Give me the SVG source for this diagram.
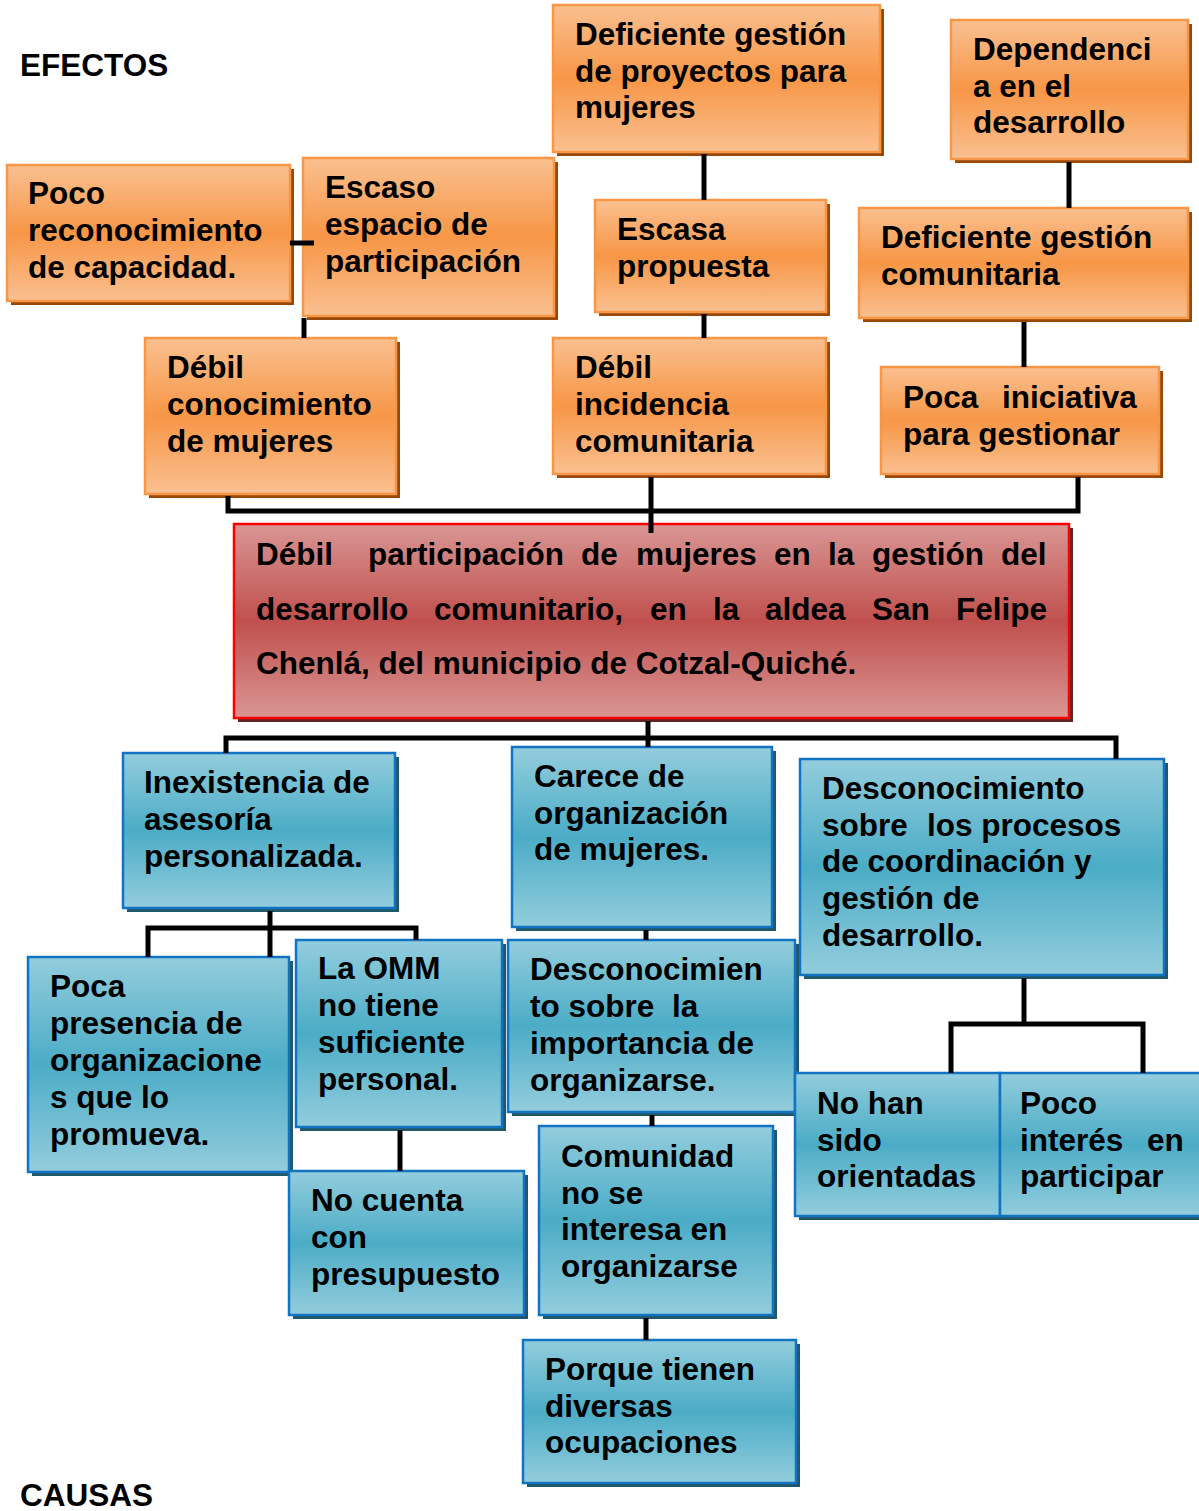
<svg xmlns="http://www.w3.org/2000/svg" width="1199" height="1511" viewBox="0 0 1199 1511">
<defs>
<linearGradient id="gO" x1="0" y1="0" x2="0" y2="1">
<stop offset="0" stop-color="#fac090"/><stop offset="0.5" stop-color="#f79646"/><stop offset="1" stop-color="#fac090"/>
</linearGradient>
<linearGradient id="gB" x1="0" y1="0" x2="0" y2="1">
<stop offset="0" stop-color="#93cddd"/><stop offset="0.5" stop-color="#4bacc6"/><stop offset="1" stop-color="#93cddd"/>
</linearGradient>
<linearGradient id="gR" x1="0" y1="0" x2="0" y2="1">
<stop offset="0" stop-color="#d99694"/><stop offset="0.5" stop-color="#c0504d"/><stop offset="1" stop-color="#d99694"/>
</linearGradient>
</defs>
<style>
text{font-family:"Liberation Sans",Arial,sans-serif;font-weight:bold;font-size:31.5px;fill:#000}
.o{fill:url(#gO);stroke:#f79646;stroke-width:2.5}
.os{fill:#984807}
.b{fill:url(#gB);stroke:#1273c2;stroke-width:2.5}
.bs{fill:#215868}
.r{fill:url(#gR);stroke:#ff0000;stroke-width:2.5}
.rs{fill:#632523}
.c{fill:none;stroke:#000;stroke-width:5}
</style>
<rect width="1199" height="1511" fill="#fff"/>
<text id="efectos" x="20" y="76">EFECTOS</text>
<text id="causas" x="20" y="1506">CAUSAS</text>

<g id="n-deficiente-proyectos">
<rect class="os" x="557" y="9" width="327" height="147"/>
<rect class="o" x="553" y="5" width="327" height="147"/>
<text x="575" y="45">Deficiente gestión</text>
<text x="575" y="82">de proyectos para</text>
<text x="575" y="118">mujeres</text>
</g>
<g id="n-dependencia">
<rect class="os" x="955" y="24" width="237" height="139"/>
<rect class="o" x="951" y="20" width="237" height="139"/>
<text x="973" y="60">Dependenci</text>
<text x="973" y="97">a en el</text>
<text x="973" y="133">desarrollo</text>
</g>
<g id="n-poco-reconocimiento">
<rect class="os" x="11" y="169" width="283" height="136"/>
<rect class="o" x="7" y="165" width="283" height="136"/>
<text x="28" y="204">Poco</text>
<text x="28" y="241">reconocimiento</text>
<text x="28" y="278">de capacidad.</text>
</g>
<g id="n-escaso-espacio">
<rect class="os" x="307" y="162" width="251" height="158"/>
<rect class="o" x="303" y="158" width="251" height="158"/>
<text x="325" y="198">Escaso</text>
<text x="325" y="235">espacio de</text>
<text x="325" y="272">participación</text>
</g>
<g id="n-escasa-propuesta">
<rect class="os" x="599" y="204" width="231" height="112"/>
<rect class="o" x="595" y="200" width="231" height="112"/>
<text x="617" y="240">Escasa</text>
<text x="617" y="277">propuesta</text>
</g>
<g id="n-deficiente-comunitaria">
<rect class="os" x="863" y="212" width="329" height="110"/>
<rect class="o" x="859" y="208" width="329" height="110"/>
<text x="881" y="248">Deficiente gestión</text>
<text x="881" y="285">comunitaria</text>
</g>
<g id="n-debil-conocimiento">
<rect class="os" x="149" y="342" width="251" height="156"/>
<rect class="o" x="145" y="338" width="251" height="156"/>
<text x="167" y="378">Débil</text>
<text x="167" y="415">conocimiento</text>
<text x="167" y="452">de mujeres</text>
</g>
<g id="n-debil-incidencia">
<rect class="os" x="557" y="342" width="273" height="136"/>
<rect class="o" x="553" y="338" width="273" height="136"/>
<text x="575" y="378">Débil</text>
<text x="575" y="415">incidencia</text>
<text x="575" y="452">comunitaria</text>
</g>
<g id="n-poca-iniciativa">
<rect class="os" x="885" y="371" width="278" height="107"/>
<rect class="o" x="881" y="367" width="278" height="107"/>
<text x="903" y="408">Poca<tspan x="1002">iniciativa</tspan></text>
<text x="903" y="445">para gestionar</text>
</g>

<g id="n-problema-central">
<rect class="rs" x="238" y="528" width="835" height="194"/>
<rect class="r" x="234" y="524" width="835" height="194"/>
<text y="565"><tspan x="256">Débil</tspan><tspan x="368">participación</tspan><tspan x="581">de</tspan><tspan x="636">mujeres</tspan><tspan x="774">en</tspan><tspan x="828">la</tspan><tspan x="872">gestión</tspan><tspan x="1001">del</tspan></text>
<text y="620"><tspan x="256">desarrollo</tspan><tspan x="434">comunitario,</tspan><tspan x="650">en</tspan><tspan x="713">la</tspan><tspan x="765">aldea</tspan><tspan x="872">San</tspan><tspan x="956">Felipe</tspan></text>
<text x="256" y="674">Chenlá, del municipio de Cotzal-Quiché.</text>
</g>

<g id="n-inexistencia">
<rect class="bs" x="127" y="757" width="272" height="155"/>
<rect class="b" x="123" y="753" width="272" height="155"/>
<text x="144" y="793">Inexistencia de</text>
<text x="144" y="830">asesoría</text>
<text x="144" y="867">personalizada.</text>
</g>
<g id="n-carece">
<rect class="bs" x="516" y="751" width="260" height="180"/>
<rect class="b" x="512" y="747" width="260" height="180"/>
<text x="534" y="787">Carece de</text>
<text x="534" y="824">organización</text>
<text x="534" y="860">de mujeres.</text>
</g>
<g id="n-desconocimiento-procesos">
<rect class="bs" x="804" y="763" width="364" height="216"/>
<rect class="b" x="800" y="759" width="364" height="216"/>
<text x="822" y="799">Desconocimiento</text>
<text x="822" y="836">sobre<tspan x="927">los procesos</tspan></text>
<text x="822" y="872">de coordinación y</text>
<text x="822" y="909">gestión de</text>
<text x="822" y="946">desarrollo.</text>
</g>
<g id="n-poca-presencia">
<rect class="bs" x="32" y="961" width="261" height="215"/>
<rect class="b" x="28" y="957" width="261" height="215"/>
<text x="50" y="997">Poca</text>
<text x="50" y="1034">presencia de</text>
<text x="50" y="1071">organizacione</text>
<text x="50" y="1108">s que lo</text>
<text x="50" y="1145">promueva.</text>
</g>
<g id="n-omm">
<rect class="bs" x="300" y="944" width="206" height="187"/>
<rect class="b" x="296" y="940" width="206" height="187"/>
<text x="318" y="979">La OMM</text>
<text x="318" y="1016">no tiene</text>
<text x="318" y="1053">suficiente</text>
<text x="318" y="1090">personal.</text>
</g>
<g id="n-desconocimiento-importancia">
<rect class="bs" x="512" y="944" width="287" height="172"/>
<rect class="b" x="508" y="940" width="287" height="172"/>
<text x="530" y="980">Desconocimien</text>
<text x="530" y="1017">to sobre<tspan x="672">la</tspan></text>
<text x="530" y="1054">importancia de</text>
<text x="530" y="1091">organizarse.</text>
</g>
<g id="n-no-cuenta">
<rect class="bs" x="293" y="1175" width="235" height="144"/>
<rect class="b" x="289" y="1171" width="235" height="144"/>
<text x="311" y="1211">No cuenta</text>
<text x="311" y="1248">con</text>
<text x="311" y="1285">presupuesto</text>
</g>
<g id="n-comunidad">
<rect class="bs" x="543" y="1130" width="234" height="189"/>
<rect class="b" x="539" y="1126" width="234" height="189"/>
<text x="561" y="1167">Comunidad</text>
<text x="561" y="1204">no se</text>
<text x="561" y="1240">interesa en</text>
<text x="561" y="1277">organizarse</text>
</g>
<g id="n-no-han-sido">
<rect class="bs" x="799" y="1077" width="205" height="143"/>
<rect class="b" x="795" y="1073" width="205" height="143"/>
<text x="817" y="1114">No han</text>
<text x="817" y="1151">sido</text>
<text x="817" y="1187">orientadas</text>
</g>
<g id="n-poco-interes">
<rect class="bs" x="1004" y="1077" width="205" height="143"/>
<rect class="b" x="1000" y="1073" width="205" height="143"/>
<text x="1020" y="1114">Poco</text>
<text x="1020" y="1151">interés<tspan x="1147">en</tspan></text>
<text x="1020" y="1187">participar</text>
</g>
<g id="n-porque">
<rect class="bs" x="527" y="1344" width="273" height="143"/>
<rect class="b" x="523" y="1340" width="273" height="143"/>
<text x="545" y="1380">Porque tienen</text>
<text x="545" y="1417">diversas</text>
<text x="545" y="1453">ocupaciones</text>
</g>

<g id="connectors">
<path class="c" d="M290 243H314"/>
<path class="c" d="M704 154V200"/>
<path class="c" d="M1069 162V208"/>
<path class="c" d="M304 318V338"/>
<path class="c" d="M704 314V338"/>
<path class="c" d="M1024 322V367"/>
<path class="c" d="M228 496V511H1078V477"/>
<path class="c" d="M651 477V533"/>
<path class="c" d="M648 721V747"/>
<path class="c" d="M226 753V738H1116V759"/>
<path class="c" d="M270 911V957"/>
<path class="c" d="M148 957V928H416V940"/>
<path class="c" d="M400 1130V1171"/>
<path class="c" d="M646 930V940"/>
<path class="c" d="M652 1115V1126"/>
<path class="c" d="M646 1318V1340"/>
<path class="c" d="M1024 978V1024"/>
<path class="c" d="M951 1073V1024H1143V1073"/>
</g>
</svg>
